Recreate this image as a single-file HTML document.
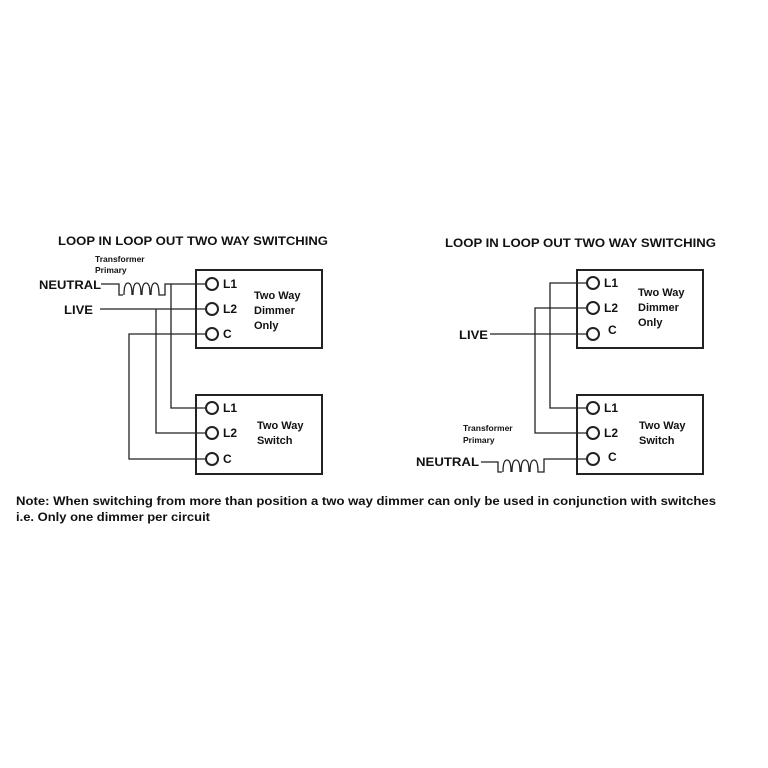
<!DOCTYPE html>
<html><head><meta charset="utf-8"><style>body{margin:0;background:#fff}svg{display:block}text{font-family:"Liberation Sans",Arial,sans-serif;font-weight:bold;fill:#111}</style></head>
<body>
<svg width="768" height="768" viewBox="0 0 768 768" xmlns="http://www.w3.org/2000/svg">
<rect width="768" height="768" fill="#fff"/>
<g stroke="#222" stroke-width="1.3" fill="none">
<rect x="196" y="270" width="126" height="78" stroke-width="2"/>
<rect x="196" y="395" width="126" height="79" stroke-width="2"/>
<circle cx="212" cy="284" r="6" stroke-width="2"/>
<circle cx="212" cy="309" r="6" stroke-width="2"/>
<circle cx="212" cy="334" r="6" stroke-width="2"/>
<circle cx="212" cy="408" r="6" stroke-width="2"/>
<circle cx="212" cy="433" r="6" stroke-width="2"/>
<circle cx="212" cy="459" r="6" stroke-width="2"/>
<path d="M101 284 H119 V295 H123 M163 295 H165 V284 H206"/>
<path d="M124 295 q0 -12 4 -12 q4 0 4 12 M133 295 q0 -12 4 -12 q4 0 4 12 M142 295 q0 -12 4 -12 q4 0 4 12 M151 295 q0 -12 4 -12 q4 0 4 12 H163"/>
<path d="M171 284 V408 H206"/>
<path d="M100 309 H206 M156 309 V433 H206"/>
<path d="M206 334 H129 V459 H206"/>
<rect x="577" y="270" width="126" height="78" stroke-width="2"/>
<rect x="577" y="395" width="126" height="79" stroke-width="2"/>
<circle cx="593" cy="283" r="6" stroke-width="2"/>
<circle cx="593" cy="308" r="6" stroke-width="2"/>
<circle cx="593" cy="334" r="6" stroke-width="2"/>
<circle cx="593" cy="408" r="6" stroke-width="2"/>
<circle cx="593" cy="433" r="6" stroke-width="2"/>
<circle cx="593" cy="459" r="6" stroke-width="2"/>
<path d="M587 283 H550 V408 H587"/>
<path d="M587 308 H535 V433 H587"/>
<path d="M490 334 H587"/>
<path d="M481 462 H498 V472 H502 M540 472 H544 V459 H587"/>
<path d="M503 472 q0 -12 4 -12 q4 0 4 12 M512 472 q0 -12 4 -12 q4 0 4 12 M521 472 q0 -12 4 -12 q4 0 4 12 M530 472 q0 -12 4 -12 q4 0 4 12 H540"/>
</g>
<g font-size="12">
<text x="58" y="245" textLength="270" lengthAdjust="spacingAndGlyphs">LOOP IN LOOP OUT TWO WAY SWITCHING</text>
<text x="445" y="247" textLength="271" lengthAdjust="spacingAndGlyphs">LOOP IN LOOP OUT TWO WAY SWITCHING</text>
<text x="39" y="289" textLength="62" lengthAdjust="spacingAndGlyphs">NEUTRAL</text>
<text x="64" y="314" textLength="29" lengthAdjust="spacingAndGlyphs">LIVE</text>
<text x="459" y="339" textLength="29" lengthAdjust="spacingAndGlyphs">LIVE</text>
<text x="416" y="466" textLength="63" lengthAdjust="spacingAndGlyphs">NEUTRAL</text>
<text x="223" y="288">L1</text><text x="223" y="313">L2</text><text x="223" y="338">C</text>
<text x="223" y="412">L1</text><text x="223" y="437">L2</text><text x="223" y="463">C</text>
<text x="604" y="287">L1</text><text x="604" y="312">L2</text><text x="608" y="334">C</text>
<text x="604" y="412">L1</text><text x="604" y="437">L2</text><text x="608" y="461">C</text>
</g>
<g font-size="11">
<text x="254" y="299">Two Way</text>
<text x="254" y="314">Dimmer</text>
<text x="254" y="329">Only</text>
<text x="257" y="429">Two Way</text>
<text x="257" y="444">Switch</text>
<text x="638" y="296">Two Way</text>
<text x="638" y="311">Dimmer</text>
<text x="638" y="326">Only</text>
<text x="639" y="429">Two Way</text>
<text x="639" y="444">Switch</text>
</g>
<g font-size="8.5">
<text x="95" y="262">Transformer</text>
<text x="95" y="273">Primary</text>
<text x="463" y="431">Transformer</text>
<text x="463" y="443">Primary</text>
</g>
<g font-size="12">
<text x="16" y="505" textLength="700" lengthAdjust="spacingAndGlyphs">Note: When switching from more than position a two way dimmer can only be used in conjunction with switches</text>
<text x="16" y="521" textLength="194" lengthAdjust="spacingAndGlyphs">i.e. Only one dimmer per circuit</text>
</g>
</svg>
</body></html>
